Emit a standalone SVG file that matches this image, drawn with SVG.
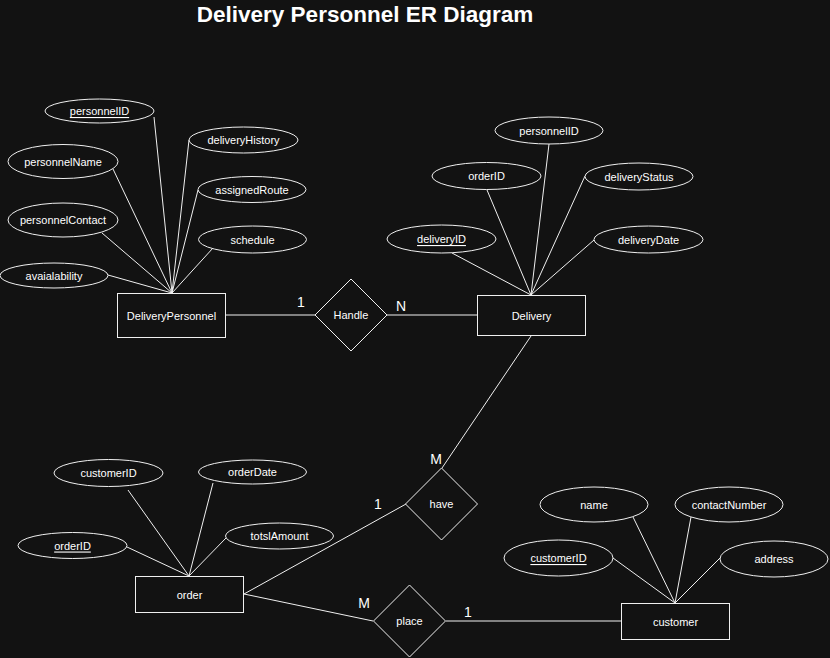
<svg xmlns="http://www.w3.org/2000/svg" width="830" height="658" viewBox="0 0 830 658">
<style>
.bg{fill:#121212}
.ent rect,.rel polygon,.att ellipse{fill:#121212;stroke:#f0f0f0;stroke-width:1}
.conn line{stroke:#f0f0f0;stroke-width:1}
text{font-family:"Liberation Sans",Arial,sans-serif;fill:#ffffff;text-anchor:middle;dominant-baseline:central}
.t{font-size:11px}
.k{text-decoration:underline}
.card{font-size:14px}
.title{font-size:22.5px;font-weight:bold}
</style>
<rect class="bg" x="0" y="0" width="830" height="658"/>
<text class="title" x="365" y="14">Delivery Personnel ER Diagram</text>
<g id="connectors" class="conn">
<line x1="154" y1="117" x2="172" y2="293"/>
<line x1="189" y1="140" x2="172" y2="293"/>
<line x1="113" y1="169" x2="172" y2="293"/>
<line x1="198" y1="190" x2="172" y2="293"/>
<line x1="102" y1="233" x2="172" y2="293"/>
<line x1="213" y1="248" x2="172" y2="293"/>
<line x1="108" y1="275" x2="172" y2="293"/>
<line x1="226" y1="315" x2="315" y2="315"/>
<line x1="387" y1="315" x2="477" y2="315"/>
<line x1="549" y1="144" x2="531" y2="295"/>
<line x1="487" y1="190" x2="531" y2="295"/>
<line x1="585" y1="176" x2="531" y2="295"/>
<line x1="452" y1="253" x2="531" y2="295"/>
<line x1="594" y1="240" x2="531" y2="295"/>
<line x1="531" y1="336" x2="442" y2="468"/>
<line x1="128" y1="490" x2="189" y2="576"/>
<line x1="213" y1="483" x2="189" y2="576"/>
<line x1="226" y1="538" x2="189" y2="576"/>
<line x1="127" y1="547" x2="189" y2="576"/>
<line x1="244" y1="594" x2="406" y2="504"/>
<line x1="244" y1="594" x2="373" y2="621"/>
<line x1="446" y1="621" x2="621" y2="621"/>
<line x1="633" y1="517" x2="675" y2="603"/>
<line x1="691" y1="517" x2="675" y2="603"/>
<line x1="613" y1="558" x2="675" y2="603"/>
<line x1="720" y1="558" x2="675" y2="603"/>
</g>
<g id="DeliveryPersonnel" class="ent"><rect x="117.5" y="293.5" width="108" height="44"/><text class="t" x="171.5" y="315.5">DeliveryPersonnel</text></g>
<g id="Delivery" class="ent"><rect x="477.5" y="295.5" width="108" height="40"/><text class="t" x="531.5" y="315.5">Delivery</text></g>
<g id="order" class="ent"><rect x="135.5" y="576.5" width="108" height="36"/><text class="t" x="189.5" y="594.5">order</text></g>
<g id="customer" class="ent"><rect x="621.5" y="603.5" width="108" height="36"/><text class="t" x="675.5" y="621.5">customer</text></g>
<g id="Handle" class="rel"><polygon points="351,279 387,315 351,351 315,315"/><text class="t" x="351" y="315">Handle</text></g>
<g id="have" class="rel"><polygon points="441.5,468 477.5,504 441.5,540 405.5,504"/><text class="t" x="441.5" y="504">have</text></g>
<g id="place" class="rel"><polygon points="409.5,585 445.5,621 409.5,657 373.5,621"/><text class="t" x="409.5" y="621">place</text></g>
<g id="att-personnelID" class="att"><ellipse cx="99.5" cy="111" rx="54.5" ry="12"/><text class="t k" x="99.5" y="111">personnelID</text></g>
<g id="att-deliveryHistory" class="att"><ellipse cx="243.5" cy="140" rx="54.5" ry="13"/><text class="t" x="243.5" y="140">deliveryHistory</text></g>
<g id="att-personnelName" class="att"><ellipse cx="63" cy="161.5" rx="55" ry="17"/><text class="t" x="63" y="161.5">personnelName</text></g>
<g id="att-assignedRoute" class="att"><ellipse cx="252" cy="189.5" rx="54" ry="13"/><text class="t" x="252" y="189.5">assignedRoute</text></g>
<g id="att-personnelContact" class="att"><ellipse cx="63" cy="220" rx="55" ry="17"/><text class="t" x="63" y="220">personnelContact</text></g>
<g id="att-schedule" class="att"><ellipse cx="252.5" cy="239.5" rx="54" ry="13.5"/><text class="t" x="252.5" y="239.5">schedule</text></g>
<g id="att-avaialability" class="att"><ellipse cx="54" cy="275.5" rx="54" ry="12.5"/><text class="t" x="54" y="275.5">avaialability</text></g>
<g id="att-d-personnelID" class="att"><ellipse cx="549" cy="130.5" rx="54" ry="13.5"/><text class="t" x="549" y="130.5">personnelID</text></g>
<g id="att-d-orderID" class="att"><ellipse cx="486.5" cy="176" rx="54.5" ry="13.5"/><text class="t" x="486.5" y="176">orderID</text></g>
<g id="att-deliveryStatus" class="att"><ellipse cx="639" cy="176.5" rx="54" ry="13.5"/><text class="t" x="639" y="176.5">deliveryStatus</text></g>
<g id="att-deliveryID" class="att"><ellipse cx="441.5" cy="239" rx="54.5" ry="14"/><text class="t k" x="441.5" y="239">deliveryID</text></g>
<g id="att-deliveryDate" class="att"><ellipse cx="648.5" cy="239.5" rx="54.5" ry="13.5"/><text class="t" x="648.5" y="239.5">deliveryDate</text></g>
<g id="att-o-customerID" class="att"><ellipse cx="108.5" cy="473" rx="54.5" ry="13.5"/><text class="t" x="108.5" y="473">customerID</text></g>
<g id="att-orderDate" class="att"><ellipse cx="252.5" cy="472" rx="54" ry="12"/><text class="t" x="252.5" y="472">orderDate</text></g>
<g id="att-totslAmount" class="att"><ellipse cx="279.5" cy="536" rx="54" ry="13"/><text class="t" x="279.5" y="536">totslAmount</text></g>
<g id="att-o-orderID" class="att"><ellipse cx="72.5" cy="545.5" rx="54.5" ry="13"/><text class="t k" x="72.5" y="545.5">orderID</text></g>
<g id="att-name" class="att"><ellipse cx="594" cy="504.5" rx="54" ry="17.5"/><text class="t" x="594" y="504.5">name</text></g>
<g id="att-contactNumber" class="att"><ellipse cx="729" cy="504.5" rx="54" ry="17.5"/><text class="t" x="729" y="504.5">contactNumber</text></g>
<g id="att-c-customerID" class="att"><ellipse cx="558.5" cy="558" rx="54.5" ry="18"/><text class="t k" x="558.5" y="558">customerID</text></g>
<g id="att-address" class="att"><ellipse cx="774" cy="559" rx="54" ry="18"/><text class="t" x="774" y="559">address</text></g>
<g id="cardinalities">
<text class="card" x="301" y="302">1</text>
<text class="card" x="401" y="306">N</text>
<text class="card" x="436" y="459">M</text>
<text class="card" x="378" y="504">1</text>
<text class="card" x="364" y="603">M</text>
<text class="card" x="468" y="612">1</text>
</g>
</svg>
